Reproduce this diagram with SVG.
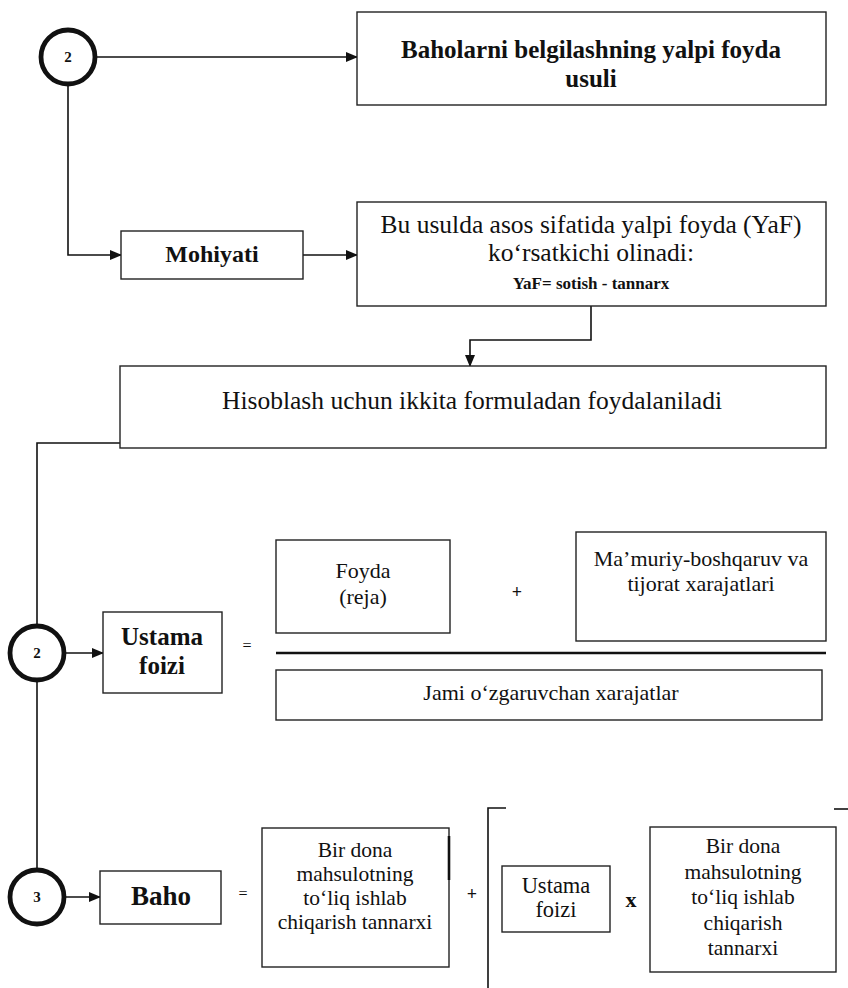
<svg xmlns="http://www.w3.org/2000/svg" width="848" height="988" viewBox="0 0 848 988">
<defs>
<marker id="ah" markerWidth="12" markerHeight="10" refX="11" refY="5" orient="auto" markerUnits="userSpaceOnUse">
<path d="M0,0 L12,5 L0,10 Z" fill="#111"/>
</marker>
<style>
.box{fill:#fff;stroke:#222;stroke-width:1.4}
.circ{fill:#fff;stroke:#111;stroke-width:4.8}
.ln{fill:none;stroke:#111;stroke-width:1.6}
text{fill:#111;text-anchor:middle}
.b{font-weight:bold}
</style>
</defs>
<rect width="848" height="988" fill="#fff"/>
<g id="connectors">
<line class="ln" x1="96" y1="57" x2="357" y2="57" marker-end="url(#ah)"/>
<polyline class="ln" points="68,84 68,255 121,255" marker-end="url(#ah)"/>
<line class="ln" x1="303" y1="255" x2="357" y2="255" marker-end="url(#ah)"/>
<polyline class="ln" points="591,306 591,340 470,340 470,366" marker-end="url(#ah)"/>
<polyline class="ln" points="120,443 37,443 37,626"/>
<line class="ln" x1="65" y1="653" x2="103" y2="653" marker-end="url(#ah)"/>
<line class="ln" x1="37" y1="680" x2="37" y2="870"/>
<line class="ln" x1="65" y1="897" x2="100" y2="897" marker-end="url(#ah)"/>
</g>
<g font-family="Liberation Serif, Tinos, Times New Roman, DejaVu Serif, serif">
<g id="c1"><circle class="circ" cx="68" cy="57" r="27"/><text class="b" x="68" y="62" font-size="15">2</text></g>
<g id="n-title"><rect class="box" x="357" y="12" width="469" height="93"/>
<text class="b" x="591" y="58" font-size="25">Baholarni belgilashning yalpi foyda</text>
<text class="b" x="591" y="87" font-size="25">usuli</text></g>
<g id="n-mohiyati"><rect class="box" x="121" y="231" width="182" height="48"/>
<text class="b" x="212" y="262" font-size="24">Mohiyati</text></g>
<g id="n-bu"><rect class="box" x="357" y="202" width="469" height="104"/>
<text x="591" y="233" font-size="25.5">Bu usulda asos sifatida yalpi foyda (YaF)</text>
<text x="591" y="261" font-size="25.5">ko‘rsatkichi olinadi:</text>
<text class="b" x="591" y="289" font-size="17">YaF= sotish - tannarx</text></g>
<g id="n-hisob"><rect class="box" x="120" y="366" width="706" height="82"/>
<text x="472" y="409" font-size="25.5">Hisoblash uchun ikkita formuladan foydalaniladi</text></g>
<g id="c2"><circle class="circ" cx="37" cy="653" r="27"/><text class="b" x="37" y="658" font-size="15">2</text></g>
<g id="n-ustama"><rect class="box" x="103" y="612" width="119" height="81"/>
<text class="b" x="162" y="645" font-size="25">Ustama</text>
<text class="b" x="162" y="674" font-size="25">foizi</text></g>
<text x="247" y="651" font-size="16">=</text>
<g id="n-foyda"><rect class="box" x="276" y="540" width="174" height="93"/>
<text x="363" y="578" font-size="22">Foyda</text>
<text x="363" y="604" font-size="22">(reja)</text></g>
<text class="b" x="517" y="598" font-size="18">+</text>
<g id="n-mamuriy"><rect class="box" x="576" y="532" width="250" height="109"/>
<text x="701" y="566" font-size="22">Ma’muriy-boshqaruv va</text>
<text x="701" y="591" font-size="22">tijorat xarajatlari</text></g>
<line x1="276" y1="653" x2="826" y2="653" stroke="#111" stroke-width="2.6"/>
<g id="n-jami"><rect class="box" x="276" y="670" width="546" height="50"/>
<text x="551" y="700" font-size="22">Jami o‘zgaruvchan xarajatlar</text></g>
<g id="c3"><circle class="circ" cx="37" cy="897" r="27"/><text class="b" x="37" y="902" font-size="15">3</text></g>
<g id="n-baho"><rect class="box" x="100" y="871" width="121" height="53"/>
<text class="b" x="161" y="905" font-size="27">Baho</text></g>
<text x="243" y="899" font-size="16">=</text>
<g id="n-bir1"><rect class="box" x="262" y="828" width="187" height="139"/>
<line x1="449" y1="836" x2="449" y2="880" stroke="#111" stroke-width="2.6"/>
<text x="355" y="857" font-size="21.5">Bir dona</text>
<text x="355" y="881" font-size="21.5">mahsulotning</text>
<text x="355" y="905" font-size="21.5">to‘liq ishlab</text>
<text x="355" y="929" font-size="21.5">chiqarish tannarxi</text></g>
<text class="b" x="472" y="900" font-size="18">+</text>
<polyline class="ln" points="506,808 488,808 488,988" stroke-width="1.3"/>
<line class="ln" x1="834" y1="809" x2="848" y2="809" stroke-width="1.3"/>
<g id="n-ustama2"><rect class="box" x="502" y="866" width="108" height="66"/>
<text x="556" y="893" font-size="22.5">Ustama</text>
<text x="556" y="917" font-size="22.5">foizi</text></g>
<text class="b" x="631" y="907" font-size="22">x</text>
<g id="n-bir2"><rect class="box" x="650" y="827" width="186" height="145"/>
<text x="743" y="853" font-size="21.5">Bir dona</text>
<text x="743" y="879" font-size="21.5">mahsulotning</text>
<text x="743" y="904" font-size="21.5">to‘liq ishlab</text>
<text x="743" y="930" font-size="21.5">chiqarish</text>
<text x="743" y="955" font-size="21.5">tannarxi</text></g>
</g>
</svg>
